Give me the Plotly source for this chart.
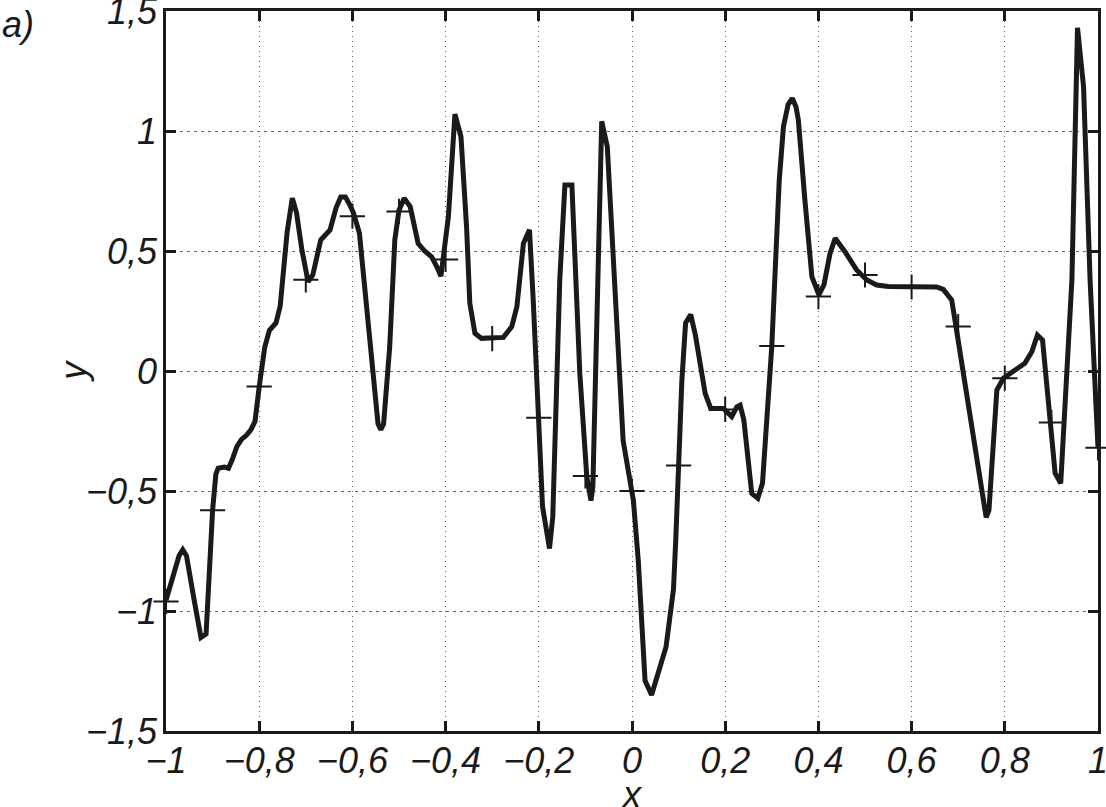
import plotly.graph_objects as go

curve_x = [-1.000, -0.985, -0.972, -0.964, -0.956, -0.940, -0.925, -0.914, -0.906, -0.900,
           -0.893, -0.888, -0.875, -0.866, -0.858, -0.848, -0.838, -0.827, -0.818, -0.809,
           -0.800, -0.788, -0.778, -0.764, -0.755, -0.749, -0.740, -0.729, -0.720, -0.708,
           -0.695, -0.685, -0.668, -0.648, -0.635, -0.625, -0.615, -0.605, -0.598, -0.585,
           -0.573, -0.558, -0.545, -0.539, -0.533, -0.520, -0.512, -0.509, -0.500, -0.489,
           -0.476, -0.459, -0.445, -0.430, -0.419, -0.410, -0.394, -0.380, -0.367, -0.355,
           -0.348, -0.337, -0.323, -0.300, -0.276, -0.258, -0.247, -0.233, -0.220, -0.212,
           -0.205, -0.200, -0.192, -0.177, -0.170, -0.155, -0.144, -0.129, -0.112, -0.097,
           -0.088, -0.084, -0.074, -0.065, -0.053, -0.036, -0.019, 0.003, 0.0135, 0.028,
           0.042, 0.073, 0.089, 0.094, 0.100, 0.107, 0.115, 0.126, 0.136, 0.146,
           0.157, 0.169, 0.196, 0.214, 0.225, 0.232, 0.240, 0.257, 0.270, 0.280,
           0.300, 0.316, 0.325, 0.335, 0.344, 0.352, 0.357, 0.371, 0.386, 0.401,
           0.412, 0.425, 0.436, 0.457, 0.482, 0.504, 0.525, 0.550, 0.600, 0.654,
           0.668, 0.675, 0.686, 0.693, 0.760, 0.766, 0.783, 0.797, 0.818, 0.843,
           0.858, 0.870, 0.881, 0.908, 0.920, 0.933, 0.944, 0.956, 0.969, 0.983,
           1.000]
curve_y = [-0.955, -0.86, -0.77, -0.745, -0.77, -0.95, -1.11, -1.095, -0.79, -0.58,
           -0.43, -0.405, -0.40, -0.405, -0.37, -0.315, -0.285, -0.267, -0.245, -0.21,
           -0.065, 0.10, 0.17, 0.20, 0.27, 0.38, 0.58, 0.72, 0.66, 0.50,
           0.372, 0.40, 0.546, 0.588, 0.68, 0.725, 0.725, 0.69, 0.66, 0.575,
           0.32, 0.05, -0.22, -0.245, -0.22, 0.10, 0.38, 0.546, 0.67, 0.72,
           0.685, 0.532, 0.50, 0.476, 0.435, 0.395, 0.643, 1.07, 0.976, 0.60,
           0.282, 0.157, 0.136, 0.136, 0.14, 0.185, 0.268, 0.532, 0.588, 0.296,
           -0.01, -0.2, -0.565, -0.74, -0.607, 0.38, 0.775, 0.775, -0.01, -0.44,
           -0.54, -0.48, 0.38, 1.04, 0.935, 0.296, -0.29, -0.54, -0.79, -1.29,
           -1.35, -1.15, -0.91, -0.70, -0.40, -0.04, 0.20, 0.235, 0.15, 0.046,
           -0.093, -0.156, -0.156, -0.19, -0.149, -0.142, -0.204, -0.51, -0.53, -0.468,
           0.104, 0.796, 1.018, 1.11, 1.136, 1.10, 1.046, 0.7125, 0.393, 0.317,
           0.36, 0.49, 0.553, 0.497, 0.421, 0.379, 0.358, 0.352, 0.350, 0.350,
           0.340, 0.324, 0.296, 0.2125, -0.61, -0.58, -0.079, -0.03, -0.003, 0.032,
           0.08, 0.15, 0.129, -0.426, -0.468, -0.04, 0.38, 1.43, 1.185, 0.38,
           -0.32]

# Sample points (+ markers)
node_x = [-1.0, -0.9, -0.8, -0.7, -0.6, -0.5, -0.4, -0.3, -0.2, -0.1, 0.0,
          0.1, 0.2, 0.3, 0.4, 0.5, 0.6, 0.7, 0.8, 0.9, 1.0]
node_y = [-0.96, -0.58, -0.065, 0.38, 0.645, 0.665, 0.465, 0.135, -0.195, -0.437, -0.5,
          -0.394, -0.16, 0.104, 0.31, 0.40, 0.35, 0.185, -0.03, -0.215, -0.32]

x_tickvals = [-1, -0.8, -0.6, -0.4, -0.2, 0, 0.2, 0.4, 0.6, 0.8, 1]
x_ticktext = ["−1", "−0,8", "−0,6", "−0,4", "−0,2", "0", "0,2", "0,4", "0,6", "0,8", "1"]
y_tickvals = [-1.5, -1, -0.5, 0, 0.5, 1, 1.5]
y_ticktext = ["−1,5", "−1", "−0,5", "0", "0,5", "1", "1,5"]

FONT = "Liberation Sans, Arial, sans-serif"
INK = "#1a1a1a"
FS = 36

fig = go.Figure()
fig.add_trace(go.Scatter(x=curve_x, y=curve_y, mode="lines",
                         line=dict(color=INK, width=5), showlegend=False))
fig.add_trace(go.Scatter(x=node_x, y=node_y, mode="markers",
                         marker=dict(symbol="cross-thin", size=18,
                                     line=dict(color=INK, width=2)),
                         showlegend=False, cliponaxis=False))

axis_common = dict(
    showline=True, linecolor=INK, linewidth=2.5, mirror="ticks",
    ticks="inside", ticklen=10, tickwidth=2.5, tickcolor=INK,
    showgrid=True, gridcolor="#666666", gridwidth=1,
    zeroline=False, automargin=False, ticklabeloverflow="allow",
    tickfont=dict(family=FONT, size=FS, color=INK, style="italic"),
)

fig.update_xaxes(range=[-1, 1], tickvals=x_tickvals, ticktext=x_ticktext,
                 griddash="1px,4px", ticklabelstandoff=-4, **axis_common)
fig.update_yaxes(range=[-1.5, 1.5], tickvals=y_tickvals, ticktext=y_ticktext,
                 griddash="3px,4px", ticklabelstandoff=-1, **axis_common)

fig.add_annotation(text="x", xref="paper", yref="paper", x=0.5, y=-0.088,
                   xanchor="center", yanchor="middle", showarrow=False,
                   font=dict(family=FONT, size=FS, color=INK, style="italic"))
fig.add_annotation(text="y", xref="paper", yref="paper", x=-0.1, y=0.5,
                   textangle=-90, xanchor="center", yanchor="middle", showarrow=False,
                   font=dict(family=FONT, size=FS, color=INK, style="italic"))
fig.add_annotation(text="a)", xref="paper", yref="paper", x=-0.1781, y=1.013,
                   xanchor="left", yanchor="top", showarrow=False,
                   font=dict(family=FONT, size=FS, color=INK, style="italic"))

fig.update_layout(
    width=1106, height=807,
    margin=dict(l=166, r=8, t=11, b=76),
    paper_bgcolor="white", plot_bgcolor="white",
    font=dict(family=FONT, color=INK),
)

# remove the default 8px page margin so the figure fills the window exactly
fig.write_html("out.html",
               config={"displayModeBar": False},
               post_script="document.body.style.margin='0';document.body.style.overflow='hidden';")
